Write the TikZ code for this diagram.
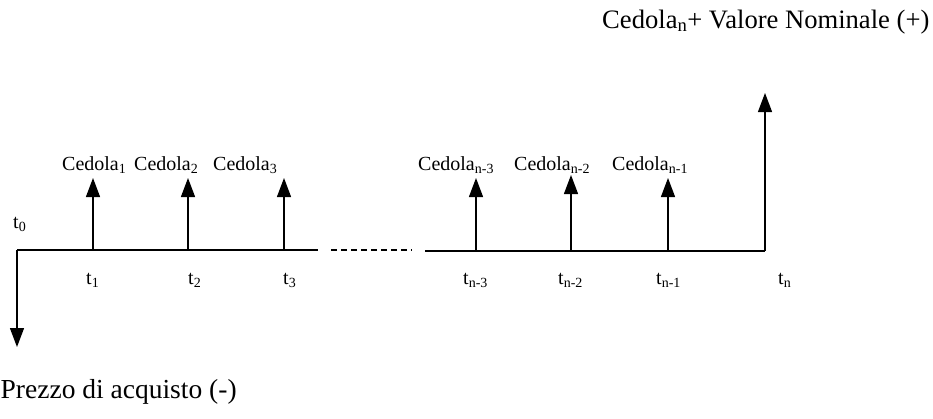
\documentclass[tikz,border=0pt]{standalone}
\usepackage{fontspec}
\setmainfont{Liberation Serif}
\usetikzlibrary{arrows.meta}

\begin{document}
\begin{tikzpicture}[x=1pt,y=-1pt,
  flow/.style={-{Triangle[length=19pt,width=14pt]},line width=1.3pt},
  axis/.style={line width=1.3pt},
  lbl/.style={anchor=base west,inner sep=0pt,font=\fontsize{20}{24}\selectfont},
  big/.style={anchor=base west,inner sep=0pt,font=\fontsize{26.6}{30}\selectfont}]
\useasboundingbox (0,0) rectangle (933,418);
% time line
\coordinate (o) at (17,250);\coordinate (e1) at (318,250);
\coordinate (d0) at (331,250);\coordinate (d1) at (412,250);
\coordinate (s) at (425,251);\coordinate (tn) at (765,251);
\draw[axis] (o)--(e1);\draw[axis] (s)--(tn);
\draw[line width=1.1pt,dash pattern=on 6pt off 4pt] (d0)--(d1);
% coupons
\foreach \n/\x/\b/\y in {1/93/250/178,2/188/250/178,3/284/250/178,4/476/251/178,5/571/251/175,6/668/251/178}{
  \coordinate (b\n) at (\x,\b);\coordinate (c\n) at (\x,\y);\draw[flow] (b\n)--(c\n);}
\coordinate (cn) at (765,93);\draw[flow] (tn)--(cn);
\coordinate (p) at (17,347);\draw[flow] (o)--(p);
% labels
\node[lbl] (k1) at (62,170) {Cedola\textsubscript{1}};
\node[lbl] (k2) at (134,170) {Cedola\textsubscript{2}};
\node[lbl] (k3) at (213,170) {Cedola\textsubscript{3}};
\node[lbl] (k4) at (418,170) {Cedola\textsubscript{n-3}};
\node[lbl] (k5) at (514,170) {Cedola\textsubscript{n-2}};
\node[lbl] (k6) at (612,170) {Cedola\textsubscript{n-1}};
\node[big] (kn) at (602,28) {Cedola\textsubscript{n}+ Valore Nominale (+)};
\node[big,font=\fontsize{27.5}{32}\selectfont] (pz) at (0.5,398) {Prezzo di acquisto (-)};
\node[lbl] (t0) at (13,228) {t\textsubscript{0}};
\foreach \n/\x/\t in {1/86/1,2/188/2,3/283/3,4/463/n-3,5/558/n-2,6/656/n-1,7/778/n}{
  \node[lbl] (t\n) at (\x,284) {t\textsubscript{\t}};}
\end{tikzpicture}
\end{document}
